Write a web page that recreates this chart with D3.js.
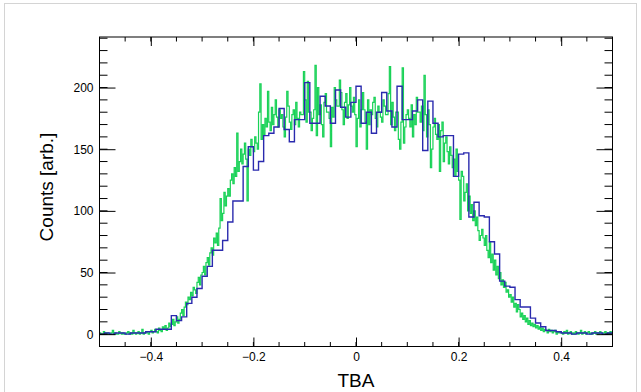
<!DOCTYPE html>
<html><head><meta charset="utf-8">
<script src="https://cdn.jsdelivr.net/npm/d3@7"></script>
<style>
body{margin:0;background:#fff}
svg{display:block}
text{font-family:"Liberation Sans",Arial,Helvetica,sans-serif;fill:#000}
</style>
</head><body>
<svg id="chart" width="641" height="392"></svg>
<script>
// ---- data ----
const xRange = [-0.5, 0.5];
const yRange = [-10, 241];
// blue histogram: 100 bins of width 0.01 from -0.5 to 0.5
const blueCounts = [
  0,1,0,1,1,0,1,1,1,2,
  2,4,4,4,15,11,14,25,30,37,
  47,55,68,68,76,91,108,108,136,152,
  133,140,161,163,168,183,166,156,174,174,
  204,171,171,193,185,171,198,184,176,188,
  201,171,180,163,180,196,181,168,201,174,
  174,181,190,149,189,171,160,161,161,128,
  146,147,95,107,96,95,75,65,43,39,
  38,28,22,22,13,9,6,3,3,2,
  1,1,0,1,1,0,1,1,0,1
];
// green histogram: 400 bins of width 0.0025 from -0.5 to 0.5
const greenCounts = [
  1,0,0,2,1,0,1,0,0,1,3,0,1,0,0,2,1,0,1,0,
  0,1,2,0,1,0,3,1,0,1,2,0,1,4,0,1,2,1,0,2,
  3,1,2,4,2,1,5,3,2,6,4,7,3,5,9,6,8,12,7,10,
  14,9,12,17,20,15,22,26,24,30,28,34,31,38,36,33,42,46,40,48,
  50,55,48,58,62,56,66,70,64,78,74,82,72,86,110,92,98,115,104,112,
  118,112,125,130,122,135,128,163,132,140,150,138,146,155,142,108,150,145,158,152,
  148,160,155,150,180,203,158,170,162,175,168,197,172,165,184,170,178,190,176,168,
  182,175,178,168,160,176,197,185,172,166,178,182,170,188,175,168,180,178,178,213,
  190,172,205,180,180,165,175,182,218,161,200,178,186,170,160,188,195,180,180,175,
  152,184,176,200,190,185,185,206,196,182,170,188,195,175,186,200,185,180,192,178,
  152,175,190,168,182,196,182,172,150,190,170,182,178,188,192,175,168,185,180,176,
  172,190,185,178,178,195,217,170,188,176,165,180,180,158,150,172,216,155,168,178,
  182,175,168,186,160,178,170,192,180,180,172,185,165,210,178,160,182,170,135,150,
  168,175,162,158,170,132,165,172,140,155,160,148,138,152,145,135,142,128,150,132,
  125,93,132,128,108,115,122,100,112,98,105,92,100,88,95,84,76,80,85,78,
  72,80,68,62,75,58,65,52,60,48,55,45,50,40,44,38,42,34,36,30,
  32,26,30,22,25,18,24,20,14,17,12,15,10,13,8,11,7,9,6,8,
  5,7,4,6,3,5,2,4,3,1,4,2,3,1,2,3,0,2,1,2,
  1,0,2,1,3,0,1,2,0,1,0,2,1,0,1,3,0,1,2,0,
  1,2,0,1,0,1,2,0,1,0,2,1,0,1,2,0,1,0,2,1
];
const xMajorTicks = [-0.4, -0.2, 0, 0.2, 0.4];
const yMajorTicks = [0, 50, 100, 150, 200];
const xTitle = "TBA";
const yTitle = "Counts [arb.]";

// ---- layout ----
const svg = d3.select("#chart");
const frame = {left: 99.5, right: 612.5, top: 37, bottom: 346.5};
const x = d3.scaleLinear().domain(xRange).range([frame.left, frame.right]);
const y = d3.scaleLinear().domain(yRange).range([frame.bottom, frame.top]);

// outer canvas border
svg.append("rect").attr("x", 4.5).attr("y", 3.5).attr("width", 632).attr("height", 400)
  .attr("fill", "none").attr("stroke", "#d4d4d4").attr("stroke-width", 1);

svg.append("clipPath").attr("id", "clipf").append("rect")
  .attr("x", frame.left).attr("y", frame.top)
  .attr("width", frame.right - frame.left).attr("height", frame.bottom - frame.top);

function histPoints(counts) {
  const n = counts.length;
  const w = (xRange[1] - xRange[0]) / n;
  const pts = counts.map((c, i) => [xRange[0] + i * w, c]);
  pts.push([xRange[1], counts[n - 1]]);
  return pts;
}
const stepLine = d3.line().x(d => x(d[0])).y(d => y(d[1])).curve(d3.curveStepAfter);

const g = svg.append("g").attr("clip-path", "url(#clipf)");
g.append("path").attr("d", stepLine(histPoints(greenCounts)))
  .attr("fill", "none").attr("stroke", "#19d257").attr("stroke-width", 1.2);
g.append("path").attr("d", stepLine(histPoints(blueCounts)))
  .attr("fill", "none").attr("stroke", "#2a2aae").attr("stroke-width", 1.4);

// ---- axes (ROOT style ticks inside, on all four sides) ----
const xMinor = d3.range(-0.45, 0.5001, 0.05).map(v => +v.toFixed(3));
const yMinor = d3.range(0, 241, 10);
const fmt = v => (v < 0 ? "\u2212" : "") + d3.format("")(Math.abs(+v.toFixed(2)));

const bottomAxis = d3.axisBottom(x).tickValues(xMajorTicks).tickSize(-9).tickFormat(fmt).tickPadding(6);
const gx = svg.append("g").attr("transform", `translate(0,${frame.bottom})`).call(bottomAxis);
gx.select(".domain").remove();
gx.selectAll(".tick text").attr("font-size", 12).attr("font-family", "Liberation Sans, Arial, sans-serif");
gx.append("g").selectAll("line").data(xMinor).join("line")
  .attr("x1", d => x(d)).attr("x2", d => x(d)).attr("y1", 0).attr("y2", -4.5).attr("stroke", "#000");

const topAxis = d3.axisTop(x).tickValues(xMajorTicks).tickSize(-9).tickFormat("");
const gt = svg.append("g").attr("transform", `translate(0,${frame.top})`).call(topAxis);
gt.select(".domain").remove();
gt.append("g").selectAll("line").data(xMinor).join("line")
  .attr("x1", d => x(d)).attr("x2", d => x(d)).attr("y1", 0).attr("y2", 4.5).attr("stroke", "#000");

const leftAxis = d3.axisLeft(y).tickValues(yMajorTicks).tickSize(-16).tickPadding(6);
const gl = svg.append("g").attr("transform", `translate(${frame.left},0)`).call(leftAxis);
gl.select(".domain").remove();
gl.selectAll(".tick text").attr("font-size", 12).attr("font-family", "Liberation Sans, Arial, sans-serif");
gl.append("g").selectAll("line").data(yMinor).join("line")
  .attr("y1", d => y(d)).attr("y2", d => y(d)).attr("x1", 0).attr("x2", 8).attr("stroke", "#000");

const rightAxis = d3.axisRight(y).tickValues(yMajorTicks).tickSize(-16).tickFormat("");
const gr = svg.append("g").attr("transform", `translate(${frame.right},0)`).call(rightAxis);
gr.select(".domain").remove();
gr.append("g").selectAll("line").data(yMinor).join("line")
  .attr("y1", d => y(d)).attr("y2", d => y(d)).attr("x1", 0).attr("x2", -8).attr("stroke", "#000");

// frame
svg.append("rect").attr("x", frame.left).attr("y", frame.top)
  .attr("width", frame.right - frame.left).attr("height", frame.bottom - frame.top)
  .attr("fill", "none").attr("stroke", "#000").attr("stroke-width", 1);

// titles
svg.append("text").attr("x", x(0)).attr("y", 387).attr("text-anchor", "middle")
  .attr("font-size", 19).text(xTitle);
svg.append("text").attr("transform", `translate(53,187) rotate(-90)`)
  .attr("text-anchor", "middle").attr("font-size", 19).text(yTitle);
</script>
</body></html>
